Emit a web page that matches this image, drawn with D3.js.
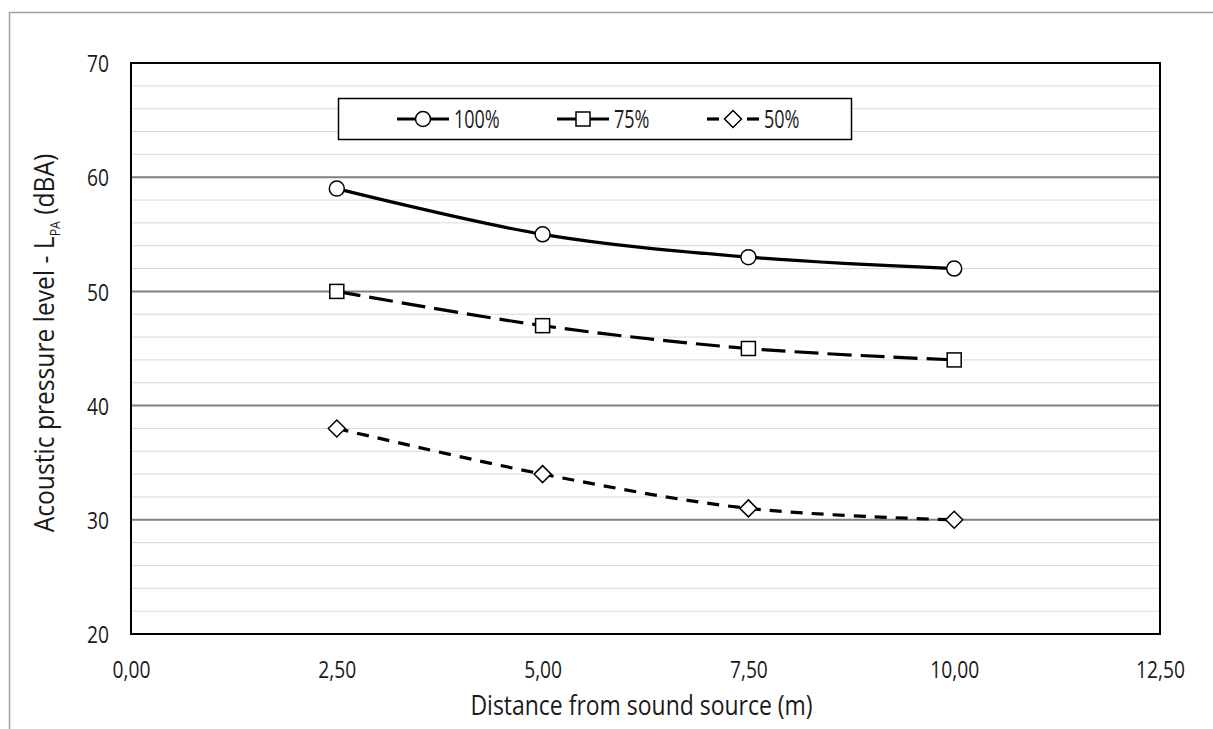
<!DOCTYPE html>
<html><head><meta charset="utf-8">
<script src="https://cdn.jsdelivr.net/npm/d3@7"></script>
<style>
body{margin:0;background:#fff;}
text{font-family:"Open Sans","Noto Sans",sans-serif;font-weight:400;fill:#1a1a1a;}
</style></head>
<body><svg id="c" width="1213" height="729"></svg>
<script>
const distances = [2.5, 5.0, 7.5, 10.0];
const s100 = [59, 55, 53, 52];
const s75 = [50, 47, 45, 44];
const s50 = [38, 34, 31, 30];
const seriesNames = ["100%", "75%", "50%"];
const xTicks = [0, 2.5, 5, 7.5, 10, 12.5];
const yTicks = [20, 30, 40, 50, 60, 70];
const yMinor = [22,24,26,28,32,34,36,38,42,44,46,48,52,54,56,58,62,64,66,68];

const svg = d3.select("#c");
const L = 131, R = 1160, T = 63, B = 634;
const x = d3.scaleLinear().domain([0, 12.5]).range([L, R]);
const y = d3.scaleLinear().domain([20, 70]).range([B, T]);
const fmt = v => d3.format(".2f")(v).replace(".", ",");
const FONT = '"Open Sans","Noto Sans",sans-serif';
const SX = 0.8;

// outer frame
svg.append("rect").attr("x", 9.5).attr("y", 12.5).attr("width", 1300).attr("height", 800)
  .attr("fill", "none").attr("stroke", "#a0a0a0").attr("stroke-width", 1.5);

// minor grid
svg.append("g").selectAll("line").data(yMinor).join("line")
  .attr("x1", L).attr("x2", R).attr("y1", d => y(d)).attr("y2", d => y(d))
  .attr("stroke", "#d9d9d9").attr("stroke-width", 1);
// major grid
svg.append("g").selectAll("line").data(yTicks.filter(v => v > 20 && v < 70)).join("line")
  .attr("x1", L).attr("x2", R).attr("y1", d => y(d)).attr("y2", d => y(d))
  .attr("stroke", "#808080").attr("stroke-width", 2);

// axes (labels only)
const yAxis = svg.append("g").attr("transform", `translate(${L},0)`)
  .call(d3.axisLeft(y).tickValues(yTicks).tickSize(0).tickPadding(0).tickFormat(d3.format("d")));
yAxis.select(".domain").remove();
yAxis.selectAll("text").attr("font-size", 24).attr("x", null).attr("dy", "0.36em")
  .attr("transform", `translate(-22,0) scale(${SX},1)`)
  .style("font-family", FONT).style("font-weight", 400).attr("fill", "#1a1a1a");

const xAxis = svg.append("g").attr("transform", `translate(0,${B})`)
  .call(d3.axisBottom(x).tickValues(xTicks).tickSize(0).tickPadding(0).tickFormat(fmt));
xAxis.select(".domain").remove();
xAxis.selectAll("text").attr("font-size", 24).attr("y", null).attr("dy", null)
  .attr("transform", `translate(0,44) scale(${SX},1)`)
  .style("font-family", FONT).style("font-weight", 400).attr("fill", "#1a1a1a");

// plot border
svg.append("rect").attr("x", L).attr("y", T).attr("width", R - L).attr("height", B - T)
  .attr("fill", "none").attr("stroke", "#000").attr("stroke-width", 2);

// series
const line = d3.line().x((d, i) => x(distances[i])).y(d => y(d)).curve(d3.curveCatmullRom.alpha(0.5));
const styles = [
  {data: s100, dash: null, marker: "circle"},
  {data: s75, dash: "24,9", marker: "square"},
  {data: s50, dash: "12,9", marker: "diamond"}
];
function drawMarker(g, type, cx, cy) {
  if (type === "circle") {
    g.append("circle").attr("cx", cx).attr("cy", cy).attr("r", 7.5)
      .attr("fill", "#fff").attr("stroke", "#000").attr("stroke-width", 1.5);
  } else if (type === "square") {
    g.append("rect").attr("x", cx - 7).attr("y", cy - 7).attr("width", 14).attr("height", 14)
      .attr("fill", "#fff").attr("stroke", "#000").attr("stroke-width", 1.5);
  } else {
    g.append("path").attr("d", `M${cx},${cy-8.5}L${cx+8.5},${cy}L${cx},${cy+8.5}L${cx-8.5},${cy}Z`)
      .attr("fill", "#fff").attr("stroke", "#000").attr("stroke-width", 1.5);
  }
}
styles.forEach(s => {
  svg.append("path").datum(s.data).attr("d", line).attr("fill", "none")
    .attr("stroke", "#000").attr("stroke-width", 3.2)
    .attr("stroke-dasharray", s.dash);
  const g = svg.append("g");
  s.data.forEach((v, i) => drawMarker(g, s.marker, x(distances[i]), y(v)));
});

// legend
const lg = svg.append("g");
lg.append("rect").attr("x", 338.5).attr("y", 98.5).attr("width", 513).attr("height", 41)
  .attr("fill", "#fff").attr("stroke", "#000").attr("stroke-width", 1.5);
const legX = [397, 557, 707];
const ly = 119;
styles.forEach((s, i) => {
  const x0 = legX[i];
  if (s.dash === "12,9") {
    lg.append("line").attr("x1", x0).attr("x2", x0 + 12).attr("y1", ly).attr("y2", ly).attr("stroke", "#000").attr("stroke-width", 3.2);
    lg.append("line").attr("x1", x0 + 40).attr("x2", x0 + 52).attr("y1", ly).attr("y2", ly).attr("stroke", "#000").attr("stroke-width", 3.2);
  } else {
    lg.append("line").attr("x1", x0).attr("x2", x0 + 52).attr("y1", ly).attr("y2", ly).attr("stroke", "#000").attr("stroke-width", 3.2);
  }
  drawMarker(lg, s.marker, x0 + 26, ly);
  lg.append("text").attr("transform", `translate(${x0 + 57},${ly}) scale(0.72,1)`)
    .attr("dy", "0.36em").attr("font-size", 25).text(seriesNames[i]);
});

// axis titles
svg.append("text").attr("transform", `translate(${(470 + 813) / 2},715) scale(0.82,1)`).attr("text-anchor", "middle")
  .attr("font-size", 28).text("Distance from sound source (m)");
const yt = svg.append("text").attr("transform", "translate(54,343) rotate(-90) scale(0.88,1)").attr("text-anchor", "middle")
  .attr("font-size", 28);
yt.append("tspan").text("Acoustic pressure level - L");
yt.append("tspan").attr("font-size", 14).attr("dy", 6).text("PA");
yt.append("tspan").attr("dy", -6).text(" (dBA)");
</script></body></html>
